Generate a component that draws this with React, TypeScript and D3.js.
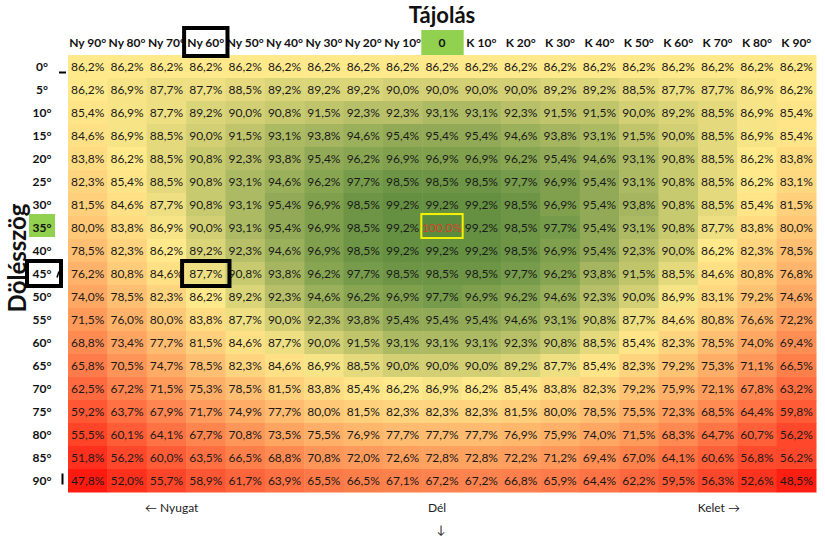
import React from 'react';
import * as d3 from 'd3';

const orientations = ['Ny 90°', 'Ny 80°', 'Ny 70°', 'Ny 60°', 'Ny 50°', 'Ny 40°', 'Ny 30°', 'Ny 20°', 'Ny 10°', '0', 'K 10°', 'K 20°', 'K 30°', 'K 40°', 'K 50°', 'K 60°', 'K 70°', 'K 80°', 'K 90°'];
const tilts = ['0°', '5°', '10°', '15°', '20°', '25°', '30°', '35°', '40°', '45°', '50°', '55°', '60°', '65°', '70°', '75°', '80°', '85°', '90°'];

const tilt0 = [86.2, 86.2, 86.2, 86.2, 86.2, 86.2, 86.2, 86.2, 86.2, 86.2, 86.2, 86.2, 86.2, 86.2, 86.2, 86.2, 86.2, 86.2, 86.2];
const tilt5 = [86.2, 86.9, 87.7, 87.7, 88.5, 89.2, 89.2, 89.2, 90.0, 90.0, 90.0, 90.0, 89.2, 89.2, 88.5, 87.7, 87.7, 86.9, 86.2];
const tilt10 = [85.4, 86.9, 87.7, 89.2, 90.0, 90.8, 91.5, 92.3, 92.3, 93.1, 93.1, 92.3, 91.5, 91.5, 90.0, 89.2, 88.5, 86.9, 85.4];
const tilt15 = [84.6, 86.9, 88.5, 90.0, 91.5, 93.1, 93.8, 94.6, 95.4, 95.4, 95.4, 94.6, 93.8, 93.1, 91.5, 90.0, 88.5, 86.9, 85.4];
const tilt20 = [83.8, 86.2, 88.5, 90.8, 92.3, 93.8, 95.4, 96.2, 96.9, 96.9, 96.9, 96.2, 95.4, 94.6, 93.1, 90.8, 88.5, 86.2, 83.8];
const tilt25 = [82.3, 85.4, 88.5, 90.8, 93.1, 94.6, 96.2, 97.7, 98.5, 98.5, 98.5, 97.7, 96.9, 95.4, 93.1, 90.8, 88.5, 86.2, 83.1];
const tilt30 = [81.5, 84.6, 87.7, 90.8, 93.1, 95.4, 96.9, 98.5, 99.2, 99.2, 99.2, 98.5, 96.9, 95.4, 93.8, 90.8, 88.5, 85.4, 81.5];
const tilt35 = [80.0, 83.8, 86.9, 90.0, 93.1, 95.4, 96.9, 98.5, 99.2, 100.0, 99.2, 98.5, 97.7, 95.4, 93.1, 90.8, 87.7, 83.8, 80.0];
const tilt40 = [78.5, 82.3, 86.2, 89.2, 92.3, 94.6, 96.9, 98.5, 99.2, 99.2, 99.2, 98.5, 96.9, 95.4, 92.3, 90.0, 86.2, 82.3, 78.5];
const tilt45 = [76.2, 80.8, 84.6, 87.7, 90.8, 93.8, 96.2, 97.7, 98.5, 98.5, 98.5, 97.7, 96.2, 93.8, 91.5, 88.5, 84.6, 80.8, 76.8];
const tilt50 = [74.0, 78.5, 82.3, 86.2, 89.2, 92.3, 94.6, 96.2, 96.9, 97.7, 96.9, 96.2, 94.6, 92.3, 90.0, 86.9, 83.1, 79.2, 74.6];
const tilt55 = [71.5, 76.0, 80.0, 83.8, 87.7, 90.0, 92.3, 93.8, 95.4, 95.4, 95.4, 94.6, 93.1, 90.8, 87.7, 84.6, 80.8, 76.6, 72.2];
const tilt60 = [68.8, 73.4, 77.7, 81.5, 84.6, 87.7, 90.0, 91.5, 93.1, 93.1, 93.1, 92.3, 90.8, 88.5, 85.4, 82.3, 78.5, 74.0, 69.4];
const tilt65 = [65.8, 70.5, 74.7, 78.5, 82.3, 84.6, 86.9, 88.5, 90.0, 90.0, 90.0, 89.2, 87.7, 85.4, 82.3, 79.2, 75.3, 71.1, 66.5];
const tilt70 = [62.5, 67.2, 71.5, 75.3, 78.5, 81.5, 83.8, 85.4, 86.2, 86.9, 86.2, 85.4, 83.8, 82.3, 79.2, 75.9, 72.1, 67.8, 63.2];
const tilt75 = [59.2, 63.7, 67.9, 71.7, 74.9, 77.7, 80.0, 81.5, 82.3, 82.3, 82.3, 81.5, 80.0, 78.5, 75.5, 72.3, 68.5, 64.4, 59.8];
const tilt80 = [55.5, 60.1, 64.1, 67.7, 70.8, 73.5, 75.5, 76.9, 77.7, 77.7, 77.7, 76.9, 75.9, 74.0, 71.5, 68.3, 64.7, 60.7, 56.2];
const tilt85 = [51.8, 56.2, 60.0, 63.5, 66.5, 68.8, 70.8, 72.0, 72.6, 72.8, 72.8, 72.2, 71.2, 69.4, 67.0, 64.1, 60.6, 56.8, 56.2];
const tilt90 = [47.8, 52.0, 55.7, 58.9, 61.7, 63.9, 65.5, 66.5, 67.1, 67.2, 67.2, 66.8, 65.9, 64.4, 62.2, 59.5, 56.3, 52.6, 48.5];

const rows = [tilt0, tilt5, tilt10, tilt15, tilt20, tilt25, tilt30, tilt35, tilt40, tilt45, tilt50, tilt55, tilt60, tilt65, tilt70, tilt75, tilt80, tilt85, tilt90];

const bestOrientation = '0';
const bestTilt = '35°';
const markedOrientation = 'Ny 60°';
const markedTilt = '45°';

const W = 825;
const H = 544;
const left = 68;
const right = 816;
const top = 55;
const bottom = 492;

const FONT = 'Lato, "Open Sans", "Liberation Sans", sans-serif';

export default function App() {
  const x = d3.scaleBand<string>().domain(orientations).range([left, right]);
  const y = d3.scaleBand<string>().domain(tilts).range([top, bottom]);
  const all = rows.flat();
  const color = d3
    .scaleLinear<string>()
    .domain([d3.min(all) as number, 86.2, d3.max(all) as number])
    .range(['#ff1a10', '#ffe98a', '#5b8b3d'])
    .interpolate(d3.interpolateRgb)
    .clamp(true);
  const fmt = (v: number) => v.toFixed(1).replace('.', ',') + '%';
  const bw = x.bandwidth();
  const bh = y.bandwidth();
  const cx = (o: string) => (x(o) as number) + bw / 2;
  const cy = (t: string) => (y(t) as number) + bh / 2;

  return (
    <svg width={W} height={H} style={{ position: 'absolute', left: 0, top: 0, background: '#fff' }} fontFamily={FONT}>
      <rect x={0} y={0} width={W} height={H} fill="#fff" />
      {/* title */}
      <text x={442} y={23} textAnchor="middle" fontSize={22} fontWeight="bold" fill="#111">Tájolás</text>
      {/* y title */}
      <text transform={`translate(26,258) rotate(-90)`} textAnchor="middle" fontSize={24} fontWeight="bold" fill="#111">Dölésszög</text>

      {/* highlighted header backgrounds */}
      <rect x={(x(bestOrientation) as number) - 1} y={30} width={bw + 3} height={top - 30} fill="#92d050" />
      <rect x={29} y={(y(bestTilt) as number) - 2} width={26} height={bh} fill="#92d050" />

      {/* cells */}
      {rows.map((row, ri) =>
        row.map((v, ci) => (
          <rect
            key={`c${ri}-${ci}`}
            x={x(orientations[ci]) as number}
            y={y(tilts[ri]) as number}
            width={bw + 0.5}
            height={bh + 0.5}
            fill={color(v)}
          />
        ))
      )}
      {rows.map((row, ri) =>
        row.map((v, ci) => {
          const isBest = orientations[ci] === bestOrientation && tilts[ri] === bestTilt;
          return (
            <text
              key={`t${ri}-${ci}`}
              x={cx(orientations[ci])}
              y={cy(tilts[ri]) + 4}
              textAnchor="middle"
              fontSize={12}
              fill={isBest ? '#d9432b' : '#1a1a1a'}
            >
              {fmt(v)}
            </text>
          );
        })
      )}

      {/* column headers */}
      {orientations.map((o) => (
        <text key={o} x={cx(o)} y={47} textAnchor="middle" fontSize={12} fontWeight="bold" fill="#111">{o}</text>
      ))}
      {/* row headers */}
      {tilts.map((t) => (
        <text key={t} x={42} y={cy(t) + 4} textAnchor="middle" fontSize={12} fontWeight="bold" fill="#111">{t}</text>
      ))}

      {/* best cell outline */}
      <rect x={(x(bestOrientation) as number) - 1} y={(y(bestTilt) as number) - 2} width={bw + 2} height={bh + 1} fill="none" stroke="#f2f200" strokeWidth={2} />

      {/* marked boxes */}
      <rect x={(x(markedOrientation) as number) - 2} y={28} width={bw + 4} height={top + 1 - 28} fill="none" stroke="#000" strokeWidth={4} />
      <rect x={(x(markedOrientation) as number) - 4} y={(y(markedTilt) as number) - 1} width={bw + 8} height={bh + 2} fill="none" stroke="#000" strokeWidth={4} />
      <rect x={27} y={(y(markedTilt) as number) - 1} width={34} height={bh + 2} fill="none" stroke="#000" strokeWidth={4} />

      {/* small marks */}
      <line x1={59} x2={66} y1={cy(tilts[0]) + 6} y2={cy(tilts[0]) + 6} stroke="#000" strokeWidth={2} />
      <line x1={62.5} x2={62.5} y1={cy(tilts[18]) - 7} y2={cy(tilts[18]) + 4} stroke="#000" strokeWidth={2} />
      <line x1={57} x2={59} y1={cy(markedTilt) + 4} y2={cy(markedTilt) - 2} stroke="#000" strokeWidth={1.5} />

      {/* direction labels */}
      <text x={145} y={512} fontSize={12} fill="#222">← Nyugat</text>
      <text x={437} y={512} textAnchor="middle" fontSize={12} fill="#222">Dél</text>
      <text x={441} y={534} textAnchor="middle" fontSize={12} fill="#222">↓</text>
      <text x={740} y={512} textAnchor="end" fontSize={12} fill="#222">Kelet →</text>
    </svg>
  );
}
